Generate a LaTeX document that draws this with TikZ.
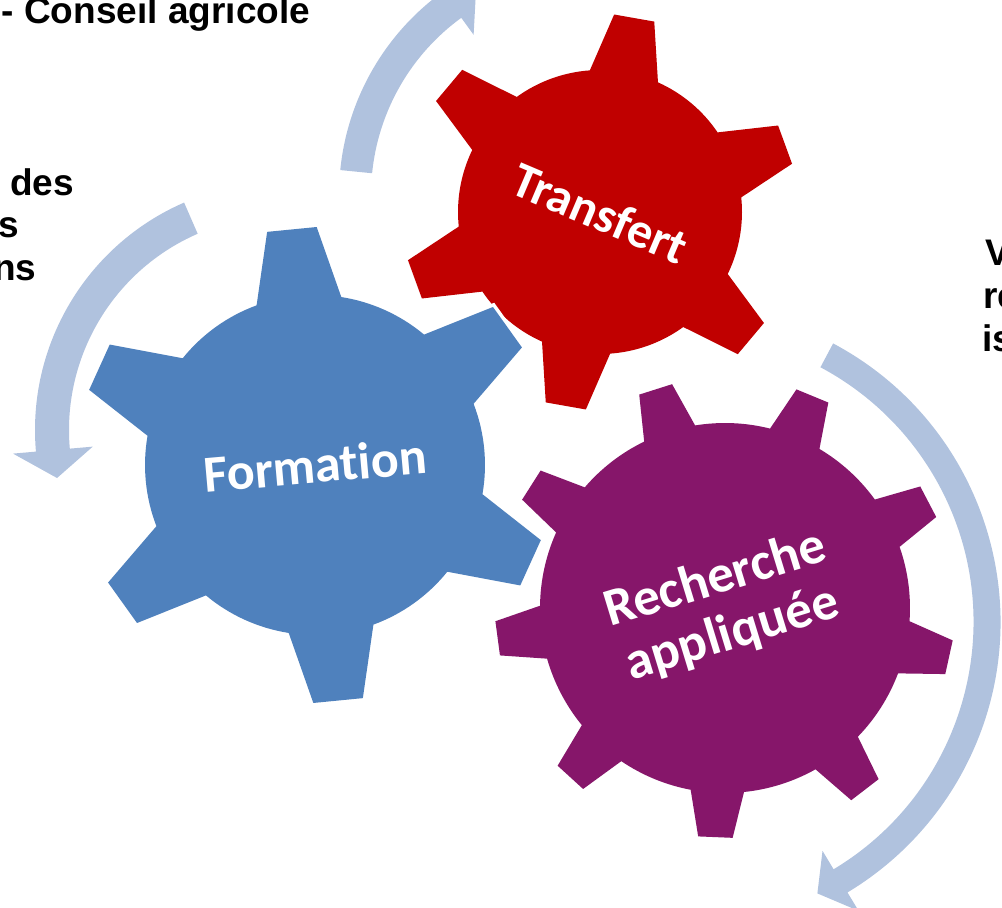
\documentclass[tikz,border=0pt]{standalone}
\usepackage{fontspec}
\setmainfont{Liberation Sans}
\newfontfamily\gearfont{Carlito}[Ligatures=NoCommon]
\definecolor{gearred}{RGB}{192,0,0}
\definecolor{gearblue}{RGB}{79,129,189}
\definecolor{gearpurple}{RGB}{134,22,106}
\definecolor{cyclearrow}{RGB}{176,194,222}
\begin{document}
\begin{tikzpicture}[x=1pt,y=1pt,
  gear/.style={preaction={draw=white,line width=7pt,line join=miter}},
  gearlabel/.style={text=white,align=center,inner sep=0pt},
  sidetext/.style={font=\bfseries\fontsize{37}{42.5}\selectfont,anchor=base west,inner sep=0pt}]
\useasboundingbox (0,0) rectangle (1002,908);
\clip (0,0) rectangle (1002,908);

\def\bandarrow#1#2#3#4#5#6#7{%
\begin{scope}[shift={#1}]
\fill[cyclearrow] (#5:{#2+#3}) arc[start angle=#5,end angle=#6,radius={#2+#3}]
  -- (#6:{#2+#4}) -- (#7:#2) -- (#6:{#2-#4}) -- (#6:{#2-#3})
  arc[start angle=#6,end angle=#5,radius={#2-#3}] -- cycle;
\end{scope}}

\def\gear#1#2#3#4#5#6#7#8{%
\begin{scope}[shift={#1},rotate=#4]
\pgfmathsetmacro\gstep{360/#3}
\fill[gear,#2] (-#7:#5) \foreach \t in {1,...,#3} {
  -- ({(\t-1)*\gstep-#8}:#6) -- ({(\t-1)*\gstep+#8}:#6)
  -- ({(\t-1)*\gstep+#7}:#5)
  arc[start angle={(\t-1)*\gstep+#7},end angle={\t*\gstep-#7},radius=#5]
} -- cycle;
\end{scope}}

% arrows round the gears
\bandarrow{(590,713)}{235}{16}{37}{174.3}{126}{119}
\bandarrow{(283,478)}{231}{17}{40}{113.5}{185}{192}
\bandarrow{(685,286)}{302}{13.5}{35}{62}{-59}{-64}

% gears
\gear{(600,696)}{gearred}{6}{20}{142}{198}{14.1}{5.9}
\gear{(315,443)}{gearblue}{6}{35.6}{170}{238}{14.5}{6}
\gear{(725,300)}{gearpurple}{9}{27.6}{185}{230}{8.3}{4.3}

\node[gearlabel,rotate=-23,font=\gearfont\bfseries\fontsize{50}{57}\selectfont] (transfert) at (600,695) {Transfert};
\node[gearlabel,rotate=5,font=\gearfont\bfseries\fontsize{52}{57}\selectfont] (formation) at (315,443) {Formation};
\node[gearlabel,rotate=17,font=\gearfont\bfseries\fontsize{53}{57}\selectfont] (recherche) at (724,301) {Recherche\\appliquée};

% cut text boxes
\node[sidetext] (conseil) at (1.5,884.5) {- Conseil agricole};
\node[sidetext] (des) at (10,712) {des};
\node[sidetext] (s) at (-2,670) {s};
\node[sidetext] (ns) at (-7,627) {ns};
\node[sidetext] (v) at (985,642) {V};
\node[sidetext] (re) at (983,599) {re};
\node[sidetext] (is) at (982,556) {is};

\end{tikzpicture}
\end{document}
